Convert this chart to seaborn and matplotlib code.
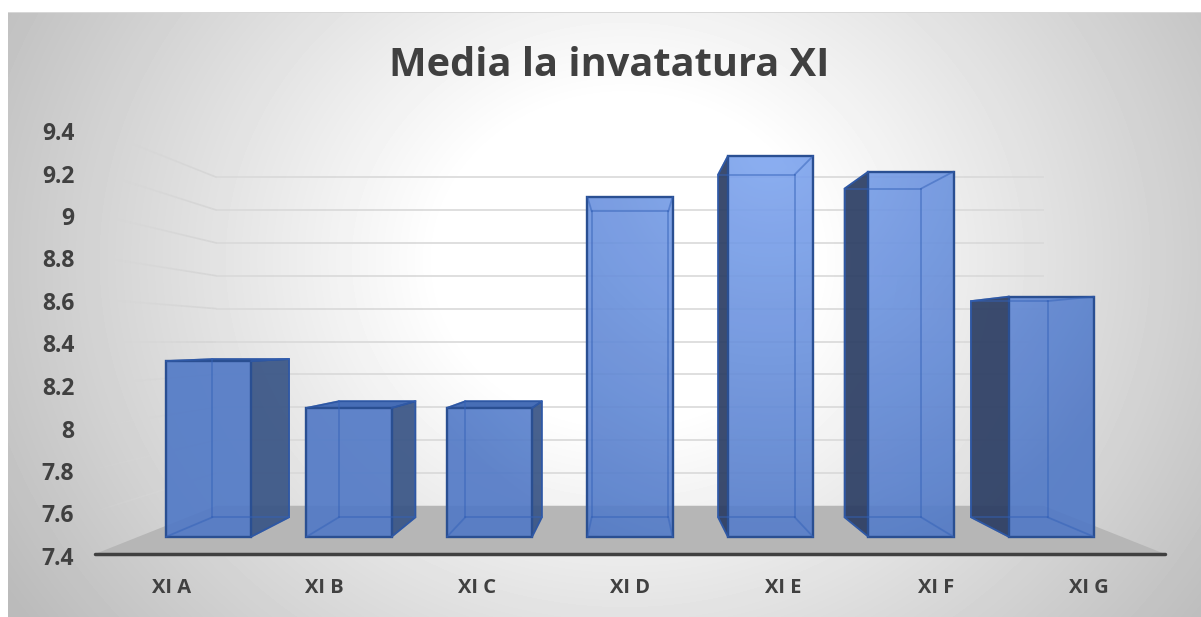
import numpy as np
import pandas as pd
import matplotlib
matplotlib.use("Agg")
import matplotlib.pyplot as plt
import seaborn as sns
from matplotlib.collections import LineCollection
from matplotlib.patches import Polygon
from matplotlib.path import Path
from matplotlib.transforms import offset_copy

clase = ["XI A", "XI B", "XI C", "XI D", "XI E", "XI F", "XI G"]
medii = [8.30, 8.06, 8.06, 9.14, 9.35, 9.27, 8.63]
y_ticks = [7.4, 7.6, 7.8, 8.0, 8.2, 8.4, 8.6, 8.8, 9.0, 9.2, 9.4]
y_labels = ["7.4", "7.6", "7.8", "8", "8.2", "8.4", "8.6", "8.8", "9", "9.2", "9.4"]
title = "Media la invatatura XI"

W, H = 1201, 617
DPI = 100
sns.set_theme(style="white")
plt.rcParams["font.family"] = ["Open Sans", "DejaVu Sans"]
TEXT = "#404040"
fig = plt.figure(figsize=(W / DPI, H / DPI), dpi=DPI, facecolor="white")

def px_box(l, t, r, b):
    return [l / W, 1 - b / H, (r - l) / W, (b - t) / H]

# ---- background gradient
yy, xx = np.mgrid[0:H, 0:W] + 0.5
t = np.sqrt(((xx - 625) / 690) ** 2 + ((yy - 260) / 600) ** 2)
g = 255 - 68 * np.clip((t - 0.27) / 0.78, 0, 1)
g[(xx < 8) | (yy < 12)] = 255
g[(yy >= 12) & (yy < 13) & (xx >= 8)] = 215
ax_bg = fig.add_axes([0, 0, 1, 1], zorder=0)
ax_bg.imshow(g, cmap="gray", vmin=0, vmax=255, aspect="auto", interpolation="bilinear")
ax_bg.set_axis_off()

# ---- main (front-of-floor) plane
L, R, T, B = 95, 1165, 129, 554
ax = fig.add_axes(px_box(L, T, R, B), zorder=1)
ax.patch.set_visible(False)
ax.set_xlim(-0.5, 6.5)
ax.set_ylim(7.4, 9.4)
for s in ax.spines.values():
    s.set_visible(False)
VX, VY = 3.0, 8.4      # vanishing point in data units
S_WALL, S_FRONT, S_BACK = 0.773, 0.919, 0.827
BAR_W = 0.606

def proj(x, v, s):
    return (VX + (x - VX) * s, VY + (v - VY) * s)

# floor
ax.add_patch(Polygon([proj(-0.5, 7.4, 1), proj(6.5, 7.4, 1), proj(6.5, 7.4, S_WALL), proj(-0.5, 7.4, S_WALL)],
                     closed=True, fc="#b6b6b6", ec="none", zorder=1))
# grid lines
GRID = "#d9d9d9"
for v in y_ticks[1:]:
    a, b = proj(-0.5, v, S_WALL), proj(6.5, v, S_WALL)
    ax.plot([a[0], b[0]], [a[1], b[1]], color=GRID, lw=1.2, zorder=1.5, solid_capstyle="butt")
    ss = np.linspace(S_WALL, 1.0, 25)
    pts = np.array([proj(-0.5, v, q) for q in ss])
    segs = np.stack([pts[:-1], pts[1:]], axis=1)
    cols = [(0.84, 0.84, 0.84, 1 - (i / 24) ** 1.6) for i in range(24)]
    ax.add_collection(LineCollection(segs, colors=cols, linewidths=1.2, zorder=1.5))
# axis line
ax.plot([-0.5, 6.5], [7.4, 7.4], color="#404040", lw=2.5, zorder=6, clip_on=False, solid_capstyle="round")

ax.set_xticks(range(len(clase)))
ax.set_xticklabels(clase, fontsize=14.5, fontweight="bold", color=TEXT)
ax.set_yticks(y_ticks)
ax.set_yticklabels(y_labels, fontsize=16.5, fontweight="bold", color=TEXT)
ax.tick_params(axis="x", length=0, pad=17)
ax.tick_params(axis="y", length=0, pad=15)
for lab in ax.get_yticklabels():
    lab.set_transform(offset_copy(lab.get_transform(), fig=fig, x=0, y=-2, units="dots"))

# ---- side and top faces (behind front)
EDGE = "#2a4f92"
for i, v in enumerate(medii):
    xl, xr = i - BAR_W / 2, i + BAR_W / 2
    if i < 3:
        poly = [proj(xr, 7.4, S_FRONT), proj(xr, v, S_FRONT), proj(xr, v, S_BACK), proj(xr, 7.4, S_BACK)]
        fc = (0.22, 0.33, 0.52, 0.92)
    elif i > 3:
        poly = [proj(xl, 7.4, S_FRONT), proj(xl, v, S_FRONT), proj(xl, v, S_BACK), proj(xl, 7.4, S_BACK)]
        fc = (0.17, 0.24, 0.39, 0.92)
    else:
        poly = None
    if poly:
        ax.add_patch(Polygon(poly, closed=True, fc=fc, ec=EDGE, lw=1.2, zorder=3))
    if v < VY:
        top = [proj(xl, v, S_FRONT), proj(xr, v, S_FRONT), proj(xr, v, S_BACK), proj(xl, v, S_BACK)]
        ax.add_patch(Polygon(top, closed=True, fc=(0.24, 0.40, 0.70, 0.95), ec=EDGE, lw=1.2, zorder=4))

# ---- front faces: seaborn bars on a plane scaled about the vanishing point
fl, fr = proj(-0.5, 7.4, S_FRONT)[0], proj(6.5, 7.4, S_FRONT)[0]
fb, ft = proj(0, 7.4, S_FRONT)[1], proj(0, 9.4, S_FRONT)[1]
px_x = lambda d: L + (d + 0.5) / 7 * (R - L)
px_y = lambda d: B - (d - 7.4) / 2 * (B - T)
ax_f = fig.add_axes(px_box(px_x(fl), px_y(ft), px_x(fr), px_y(fb)), zorder=2)
ax_f.patch.set_visible(False)
df = pd.DataFrame({"clasa": clase, "media": medii})
sns.barplot(data=df, x="clasa", y="media", ax=ax_f, width=BAR_W, color="#5b82c8", saturation=1,
            edgecolor=EDGE, linewidth=1.7, errorbar=None, zorder=3)
ax_f.set_xlim(-0.5, 6.5)
ax_f.set_ylim(7.4, 9.4)
paths = []
for bar in ax_f.patches:
    top_v = bar.get_y() + bar.get_height()
    bar.set_y(7.4)
    bar.set_height(top_v - 7.4)
    bar.set_clip_on(False)
    fc = list(bar.get_facecolor())
    bar.set_facecolor((fc[0], fc[1], fc[2], 0.1))
    paths.append(bar.get_path().transformed(bar.get_patch_transform()))

# lighting gradient inside the bars
d = np.sqrt((xx - 770) ** 2 + (yy - 150) ** 2)
k = np.clip(d / 430, 0, 1)[..., None]
light, dark = np.array([134, 172, 246]) / 255, np.array([80, 120, 198]) / 255
rgb = light + (dark - light) * k
rgba = np.dstack([rgb, np.full((H, W), 0.9)])
im = ax_f.imshow(rgba, extent=(0, 1, 0, 1), transform=fig.transFigure, origin="upper",
                 aspect="auto", zorder=2, interpolation="nearest")
im.set_clip_path(Path.make_compound_path(*paths), ax_f.transData)
ax_f.set_xlim(-0.5, 6.5)
ax_f.set_ylim(7.4, 9.4)
ax_f.set_axis_off()

# hidden edges seen through the glass-like front face
INNER = (0.20, 0.38, 0.72, 0.5)
for i, v in enumerate(medii):
    xl, xr = i - BAR_W / 2, i + BAR_W / 2
    corners = [(xl, 7.4), (xr, 7.4), (xr, v), (xl, v)]
    back = [proj(a, b, S_BACK) for a, b in corners]
    front = [proj(a, b, S_FRONT) for a, b in corners]
    for a, b in [(back[0], back[1]), (back[1], back[2]), (back[2], back[3]), (back[3], back[0]),
                 (front[0], back[0]), (front[1], back[1]), (front[2], back[2]), (front[3], back[3])]:
        ax_f.plot([a[0], b[0]], [a[1], b[1]], color=INNER, lw=1.3, zorder=4,
                  transform=ax.transData, clip_on=False)
ax_f.set_xlim(-0.5, 6.5)
ax_f.set_ylim(7.4, 9.4)

fig.text(609 / W, 1 - 65 / H, title, ha="center", va="center", fontsize=28.6, fontweight="bold", color=TEXT)
fig.savefig("out.png", dpi=DPI)
